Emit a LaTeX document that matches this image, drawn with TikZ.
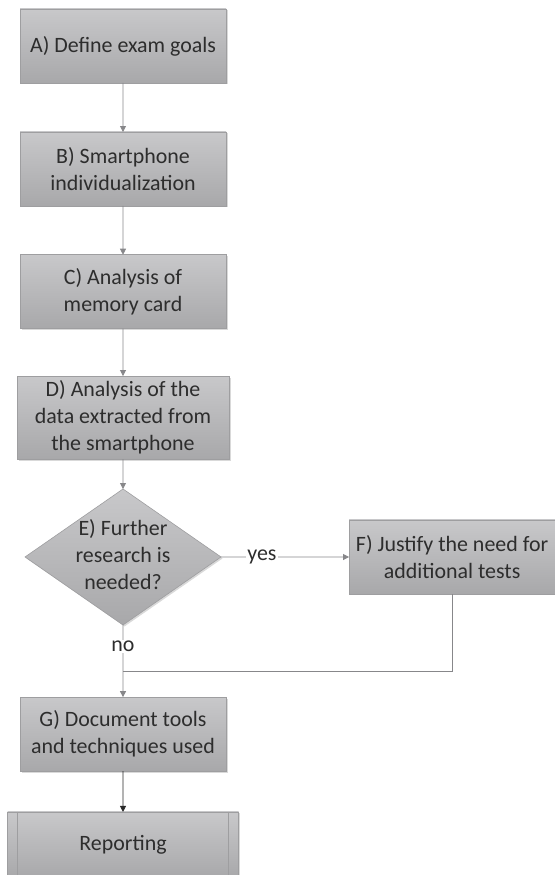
\documentclass[tikz,border=0pt]{standalone}
\usepackage{fontspec}
\setmainfont{Carlito}
\usepackage{tkz-graph}
\usetikzlibrary{shapes.geometric, shadows, arrows.meta, calc}
\definecolor{boxTop}{RGB}{200,200,202}
\definecolor{boxBottom}{RGB}{168,168,170}
\definecolor{boxBorder}{RGB}{158,158,160}
\definecolor{lineGray}{RGB}{135,135,138}
\definecolor{lineDark}{RGB}{40,40,40}
\definecolor{textGray}{RGB}{45,45,45}

\begin{document}
\begin{tikzpicture}[scale = 10]
\tikzstyle{VertexStyle} = []
\tikzstyle{EdgeStyle} = []
\tikzstyle{boxStyle}=[shape = rectangle, minimum width = 206bp, minimum height = 74bp, inner sep = 2bp, align = center, draw = boxBorder, line width = 0.6bp, top color = boxTop, bottom color = boxBottom, text = textGray, font = \fontsize{22}{27}\selectfont, drop shadow = {shadow xshift = 1.5bp, shadow yshift = -1.5bp, opacity = 0.3}]
\tikzstyle{wideBoxStyle}=[boxStyle, minimum width = 212bp, minimum height = 83bp]
\tikzstyle{decisionStyle}=[boxStyle, shape = diamond, minimum width = 196bp, minimum height = 136bp, inner sep = 0pt]
\tikzstyle{reportStyle}=[boxStyle, minimum width = 231bp, minimum height = 66bp]
\tikzstyle{answerStyle}=[fill = white, text = textGray, font = \fontsize{22}{27}\selectfont, inner sep = 1bp]
\tikzstyle{arrowStyle}=[draw = lineGray, line width = 0.8bp, -{Triangle[length = 6bp, width = 6bp]}]
\tikzstyle{lineStyle}=[draw = lineGray, line width = 0.8bp]
\useasboundingbox (0,0) rectangle (1.958,3.087);
\Vertex[style = boxStyle, x = 0.434, y = 2.925, L = {A) Define exam goals}]{A}
\Vertex[style = boxStyle, x = 0.434, y = 2.491, L = {B) Smartphone\\individualization}]{B}
\Vertex[style = boxStyle, x = 0.434, y = 2.058, L = {C) Analysis of\\memory card}]{C}
\Vertex[style = wideBoxStyle, x = 0.434, y = 1.614, L = {D) Analysis of the\\data extracted from\\the smartphone}]{D}
\Vertex[style = decisionStyle, x = 0.434, y = 1.122, L = {\smash{\raisebox{-5bp}{\begin{tabular}{@{}c@{}}E) Further\\research is\\needed?\end{tabular}}}}]{E}
\Vertex[style = boxStyle, x = 1.595, y = 1.122, L = {F) Justify the need for\\additional tests}]{F}
\Vertex[style = boxStyle, x = 0.434, y = 0.497, L = {G) Document tools\\and techniques used}]{G}
\Vertex[style = reportStyle, x = 0.434, y = 0.106, L = {Reporting}]{R}
\coordinate (J) at (0.434, 0.720);
% side bars of the predefined process
\draw[draw = boxBorder, line width = 0.6bp] ($(R.north west)!0.043!(R.north east)$) -- ($(R.south west)!0.043!(R.south east)$);
\draw[draw = boxBorder, line width = 0.6bp] ($(R.north east)!0.043!(R.north west)$) -- ($(R.south east)!0.043!(R.south west)$);
\Edge[style = arrowStyle](A)(B)
\Edge[style = arrowStyle](B)(C)
\Edge[style = arrowStyle](C)(D)
\Edge[style = arrowStyle](D)(E)
\Edge[label = yes, labelstyle = {answerStyle, pos = 0.32}, style = arrowStyle](E)(F)
\Edge[label = no, labelstyle = {answerStyle, pos = 0.3}, style = arrowStyle](E)(G)
\draw[lineStyle] (F) |- (J);
\Edge[style = {arrowStyle, draw = lineDark}](G)(R)
\end{tikzpicture}
\end{document}
